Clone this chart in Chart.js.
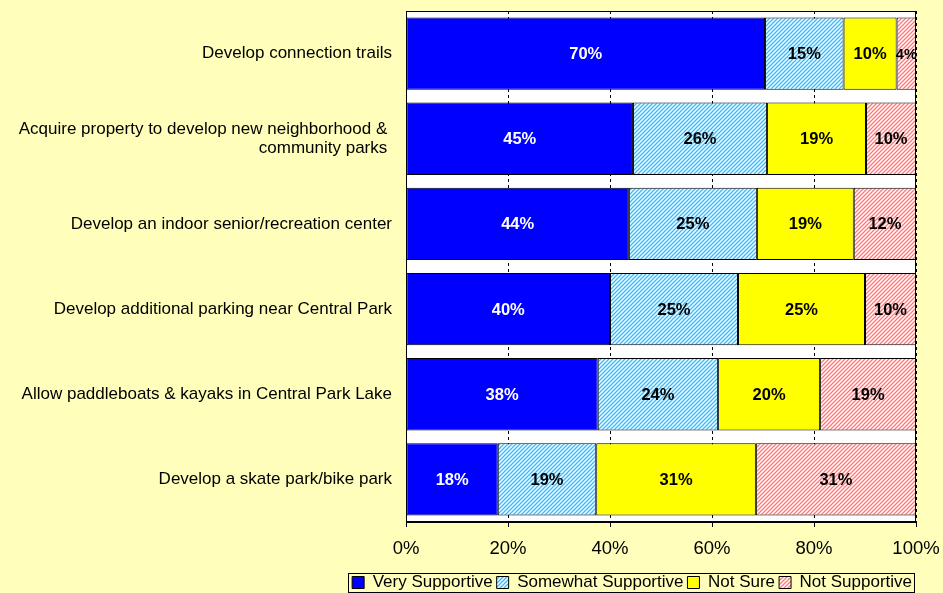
<!DOCTYPE html>
<html>
<head>
<meta charset="utf-8">
<script src="https://cdn.jsdelivr.net/npm/chart.js@4/dist/chart.umd.min.js"></script>
<style>
    html, body { margin: 0; padding: 0; background: #FFFFBB; }
    #wrap { width: 943px; height: 593px; }
</style>
</head>
<body>
<div id="wrap"><canvas id="chart"></canvas></div>
<script>
// Survey categories (top to bottom)
const categories = [
    'Develop connection trails',
    ['Acquire property to develop new neighborhood & ', 'community parks '],
    'Develop an indoor senior/recreation center',
    'Develop additional parking near Central Park',
    'Allow paddleboats & kayaks in Central Park Lake',
    'Develop a skate park/bike park'
];

// Percent of respondents
const verySupportive     = [70.4, 44.5, 43.7, 40.0, 37.6, 18.0];
const somewhatSupportive = [15.4, 26.3, 25.1, 25.1, 23.6, 19.3];
const notSure            = [10.4, 19.4, 19.0, 24.9, 20.0, 31.3];
const notSupportive      = [3.8, 9.8, 12.2, 10.0, 18.8, 31.4];

const seriesNames = ['Very Supportive', 'Somewhat Supportive', 'Not Sure', 'Not Supportive'];
const xTicks = [0, 20, 40, 60, 80, 100];

const FONT = "'Liberation Sans', Arial, sans-serif";
Chart.defaults.font.family = FONT;
Chart.defaults.color = '#000';

// small diagonal hatch fill like the original spreadsheet chart
function hatch(color) {
    const c = document.createElement('canvas');
    c.width = 4; c.height = 4;
    const g = c.getContext('2d');
    g.fillStyle = '#fff';
    g.fillRect(0, 0, 4, 4);
    g.strokeStyle = color;
    g.lineWidth = 1.3;
    g.beginPath();
    g.moveTo(0, 4); g.lineTo(4, 0);
    g.moveTo(-1, 1); g.lineTo(1, -1);
    g.moveTo(3, 5); g.lineTo(5, 3);
    g.stroke();
    return g.createPattern(c, 'repeat');
}

const backgrounds = {
    id: 'backgrounds',
    beforeDraw(chart) {
        const { ctx, chartArea: a } = chart;
        ctx.save();
        ctx.fillStyle = '#FFFFBB';
        ctx.fillRect(0, 0, chart.width, chart.height);
        ctx.fillStyle = '#fff';
        ctx.fillRect(a.left, a.top, a.right - a.left, a.bottom - a.top);
        ctx.restore();
    },
    afterDraw(chart) {
        const { ctx, chartArea: a } = chart;
        ctx.save();
        ctx.strokeStyle = '#000';
        ctx.lineWidth = 1;
        ctx.strokeRect(Math.round(a.left) + 0.5, Math.round(a.top) + 0.5,
            Math.round(a.right - a.left) - 1, Math.round(a.bottom - a.top) - 1);

        // box around the legend
        const boxes = chart.legend.legendHitBoxes;
        if (boxes && boxes.length) {
            const l = Math.min(...boxes.map(b => b.left)) - 4;
            const r = Math.max(...boxes.map(b => b.left + b.width)) + 2;
            const t = Math.min(...boxes.map(b => b.top)) - 1;
            const bt = Math.max(...boxes.map(b => b.top + b.height)) + 1;
            ctx.strokeRect(Math.round(l) + 0.5, Math.round(t) + 0.5, Math.round(r - l), Math.round(bt - t));
        }
        ctx.restore();
    }
};

const barLabels = {
    id: 'barLabels',
    afterDatasetsDraw(chart) {
        const ctx = chart.ctx;
        ctx.save();
        ctx.textAlign = 'center';
        ctx.textBaseline = 'middle';
        chart.data.datasets.forEach((ds, i) => {
            chart.getDatasetMeta(i).data.forEach((bar, j) => {
                const txt = Math.round(ds.data[j]) + '%';
                const w = Math.abs(bar.x - bar.base);
                let size = 16.5;
                ctx.font = 'bold ' + size + 'px ' + FONT;
                while (ctx.measureText(txt).width > w + 2 && size > 10) {
                    size--;
                    ctx.font = 'bold ' + size + 'px ' + FONT;
                }
                ctx.fillStyle = i === 0 ? '#fff' : '#000';
                ctx.fillText(txt, (bar.x + bar.base) / 2, bar.y + 1);
            });
        });
        ctx.restore();
    }
};

const legendSize = {
    id: 'legendSize',
    beforeInit(chart) {
        const fit = chart.legend.fit;
        chart.legend.fit = function() {
            fit.call(this);
            this.height = 23;
        };
    }
};

const ctx = document.getElementById('chart').getContext('2d');
new Chart(ctx, {
    type: 'bar',
    data: {
        labels: categories,
        datasets: [
            { label: seriesNames[0], data: verySupportive, backgroundColor: '#0000FF' },
            { label: seriesNames[1], data: somewhatSupportive, backgroundColor: hatch('#33BBFF') },
            { label: seriesNames[2], data: notSure, backgroundColor: '#FFFF00' },
            { label: seriesNames[3], data: notSupportive, backgroundColor: hatch('#FF7777') }
        ].map(d => Object.assign(d, {
            borderColor: '#000',
            borderWidth: 1,
            borderSkipped: false,
            categoryPercentage: 1,
            barPercentage: 0.85
        }))
    },
    options: {
        indexAxis: 'y',
        responsive: true,
        maintainAspectRatio: false,
        animation: false,
        layout: { padding: { top: 11, right: 27, left: 0, bottom: 0 } },
        plugins: {
            legend: {
                position: 'bottom',
                align: 'end',
                labels: {
                    boxWidth: 12,
                    boxHeight: 12,
                    padding: 4,
                    font: { size: 17 },
                    color: '#000'
                }
            },
            tooltip: { enabled: false }
        },
        scales: {
            x: {
                stacked: true,
                min: 0,
                max: 100,
                afterBuildTicks(scale) {
                    scale.ticks = xTicks.map(v => ({ value: v }));
                },
                afterFit(scale) {
                    scale.height = 48;
                    scale.paddingLeft = 0;
                    scale.paddingRight = 0;
                },
                ticks: {
                    font: { size: 18.5 },
                    color: '#000',
                    padding: 11,
                    callback: v => v + '%'
                },
                grid: {
                    color: '#000',
                    lineWidth: 1,
                    drawTicks: true,
                    tickLength: 5,
                    tickColor: '#000'
                },
                border: { display: true, color: '#000', dash: [3, 3] }
            },
            y: {
                stacked: true,
                afterFit(scale) {
                    scale.width = 406;
                    scale.paddingTop = 0;
                    scale.paddingBottom = 0;
                },
                ticks: {
                    font: { size: 17, lineHeight: 1.07 },
                    color: '#000',
                    padding: 6
                },
                grid: { display: false },
                border: { display: false }
            }
        }
    },
    plugins: [backgrounds, barLabels, legendSize]
});
</script>
</body>
</html>
